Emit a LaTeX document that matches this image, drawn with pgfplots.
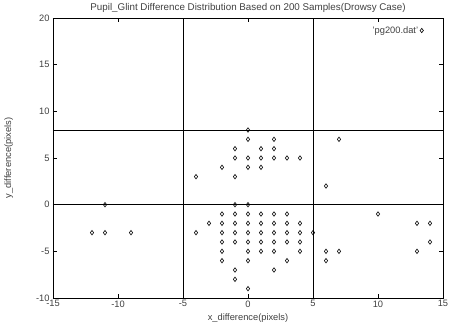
\documentclass[border=0pt]{standalone}
\usepackage{fontspec}
\setmainfont{Liberation Sans}
\usepackage{pgfplots}
\pgfplotsset{compat=1.18}
\begin{document}
\begin{tikzpicture}[x=1pt,y=1pt]
\path[use as bounding box] (-53,-26) rectangle (397,298);
\begin{axis}[
  at={(0,0)}, anchor=south west,
  width=390pt, height=280pt, scale only axis,
  xmin=-15, xmax=15, ymin=-10, ymax=20,
  xtick={-15,-10,...,15}, ytick={-10,-5,...,20},
  tick align=inside, major tick length=4pt,
  tick style={black, line width=0.5pt},
  axis line style={black, line width=0.7pt},
  /pgf/number format/assume math mode=true,
  ticklabel style={font=\fontsize{9.3}{10}\selectfont, text=black!75},
  xticklabel style={yshift=1pt},
  title={Pupil\_Glint Difference Distribution Based on 200 Samples(Drowsy Case)},
  title style={font=\fontsize{9.8}{11}\selectfont, text=black!75, yshift=-4.5pt},
  xlabel={x\_difference(pixels)},
  ylabel={y\_difference(pixels)},
  label style={font=\fontsize{9.3}{10}\selectfont, text=black!75},
  xlabel style={yshift=0pt},
  ylabel style={yshift=16pt},
  legend style={draw=none, fill=none, at={(0.958,0.985)}, anchor=north east,
    font=\fontsize{9.3}{10}\selectfont, text=black!75},
  legend plot pos=right,
  legend cell align=right,
]
\addplot[black, line width=0.7pt, forget plot] coordinates {(-5,-10) (-5,20)};
\addplot[black, line width=0.7pt, forget plot] coordinates {(5,-10) (5,20)};
\addplot[black, line width=0.7pt, forget plot] coordinates {(-15,0) (15,0)};
\addplot[black, line width=0.7pt, forget plot] coordinates {(-15,8) (15,8)};
\addplot[only marks, mark=diamond, mark size=2.2pt, mark options={black, line width=0.6pt}] coordinates {
(0,8)
(0,7) (2,7) (7,7)
(-1,6) (1,6) (2,6)
(-1,5) (0,5) (1,5) (2,5) (3,5) (4,5)
(-2,4) (0,4) (1,4)
(-4,3) (-1,3)
(6,2)
(-11,0) (-1,0) (0,0)
(-2,-1) (-1,-1) (0,-1) (1,-1) (2,-1) (3,-1) (10,-1)
(-3,-2) (-2,-2) (-1,-2) (0,-2) (1,-2) (2,-2) (3,-2) (4,-2) (13,-2) (14,-2)
(-12,-3) (-11,-3) (-9,-3) (-4,-3) (-2,-3) (-1,-3) (0,-3) (1,-3) (2,-3) (3,-3) (4,-3) (5,-3)
(-2,-4) (-1,-4) (0,-4) (1,-4) (2,-4) (3,-4) (4,-4) (14,-4)
(-2,-5) (0,-5) (1,-5) (2,-5) (4,-5) (6,-5) (7,-5) (13,-5)
(-2,-6) (0,-6) (3,-6) (6,-6)
(-1,-7) (2,-7)
(-1,-8)
(0,-9)
};
\addlegendentry{'pg200.dat'}
\end{axis}
\end{tikzpicture}
\end{document}
